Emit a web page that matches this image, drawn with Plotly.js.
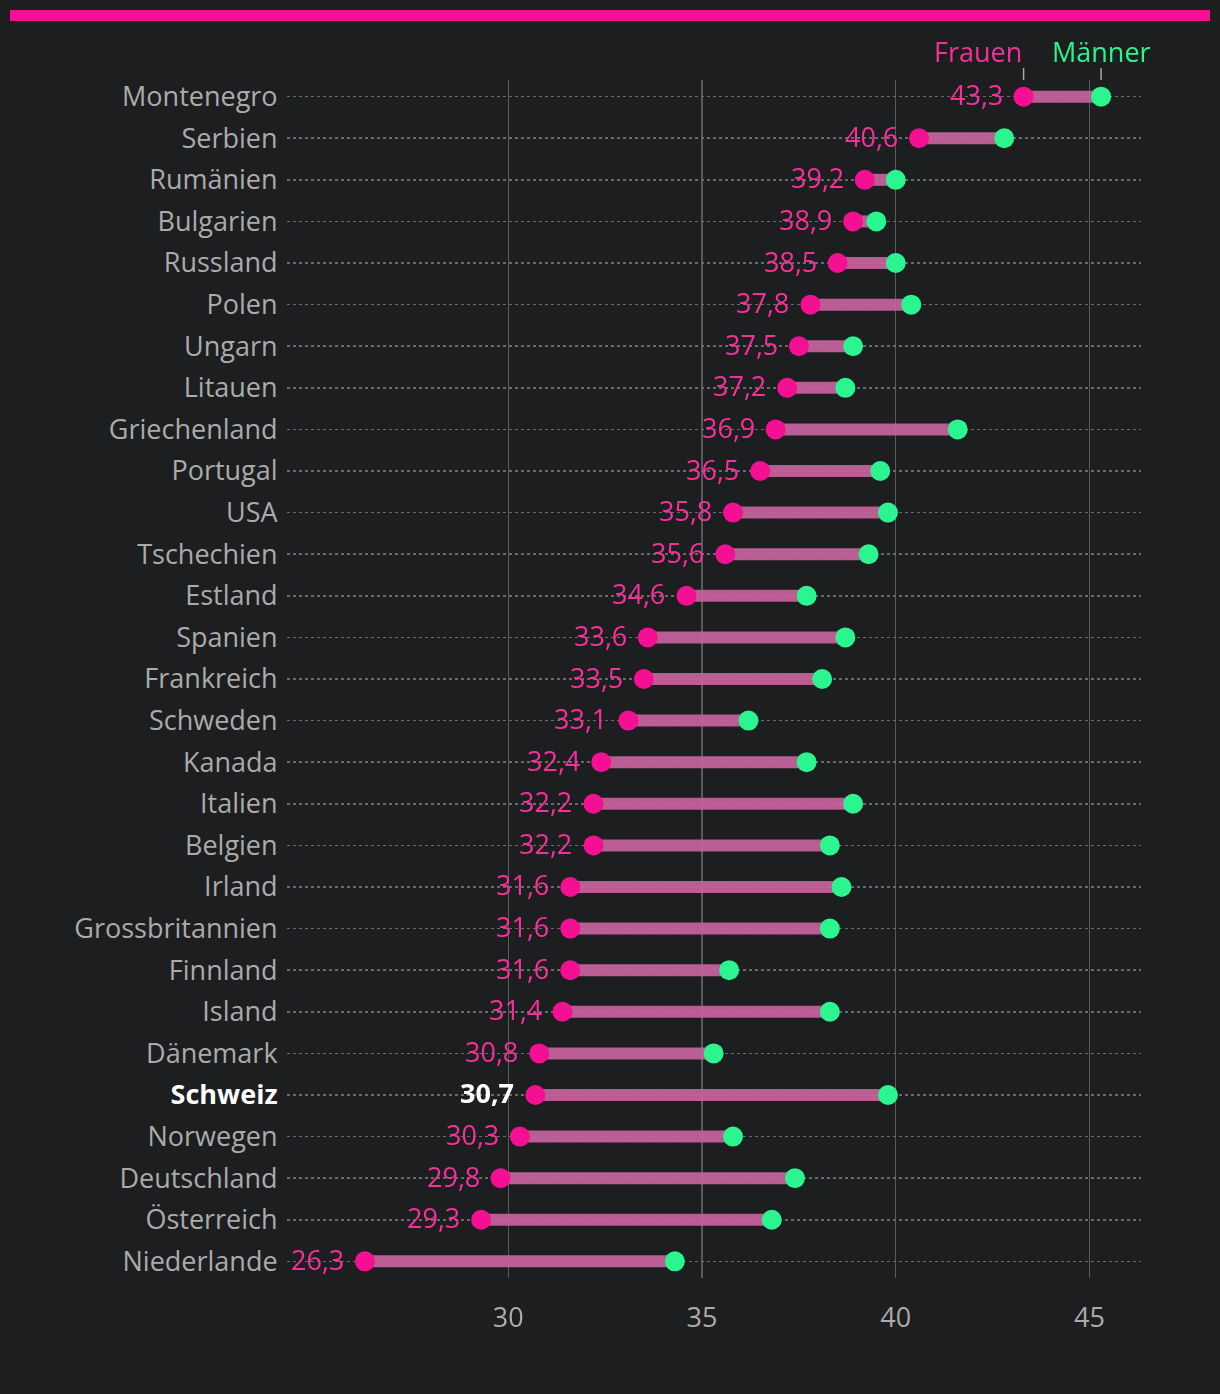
<!DOCTYPE html>
<html>
<head>
<meta charset="utf-8">
<script src="https://cdn.plot.ly/plotly-3.0.1.min.js"></script>
<style>
html,body{margin:0;padding:0;background:#1d1e20;}
#chart{width:1220px;height:1394px;}
</style>
</head>
<body>
<div id="chart"></div>
<script>
const countries = ["Montenegro","Serbien","Rumänien","Bulgarien","Russland","Polen","Ungarn","Litauen","Griechenland","Portugal","USA","Tschechien","Estland","Spanien","Frankreich","Schweden","Kanada","Italien","Belgien","Irland","Grossbritannien","Finnland","Island","Dänemark","Schweiz","Norwegen","Deutschland","Österreich","Niederlande"];
const frauen = [43.3,40.6,39.2,38.9,38.5,37.8,37.5,37.2,36.9,36.5,35.8,35.6,34.6,33.6,33.5,33.1,32.4,32.2,32.2,31.6,31.6,31.6,31.4,30.8,30.7,30.3,29.8,29.3,26.3];
const maenner = [45.3,42.8,40.0,39.5,40.0,40.4,38.9,38.7,41.6,39.6,39.8,39.3,37.7,38.7,38.1,36.2,37.7,38.9,38.3,38.6,38.3,35.7,38.3,35.3,39.8,35.8,37.4,36.8,34.3];
const xTicks = [30,35,40,45];
const highlight = "Schweiz";

const PINK = "#f50f92", LABELPINK = "#f5309a", GREEN = "#2af58f", BG = "#1d1e20";
const FONT = "Open Sans, Lato, sans-serif";
const idx = countries.map((c,i)=>i);

const lx = [], ly = [];
countries.forEach((c,i)=>{ lx.push(frauen[i], maenner[i], null); ly.push(i, i, null); });

const fmt = v => v.toFixed(1).replace(".", ",");

const traces = [
  {type:"scatter", mode:"lines", x:lx, y:ly, line:{color:"#c8649e", width:12}, opacity:0.92, hoverinfo:"skip", showlegend:false},
  {type:"scatter", mode:"markers", x:maenner, y:idx, marker:{color:GREEN, size:20}, showlegend:false, cliponaxis:false},
  {type:"scatter", mode:"markers", x:frauen, y:idx, marker:{color:PINK, size:20}, showlegend:false, cliponaxis:false}
];

const valueAnn = countries.map((c,i)=>({
  x:frauen[i], y:i, xref:"x", yref:"y", xanchor:"right", yanchor:"middle", xshift:-19, yshift:2,
  text: c===highlight ? "<b>"+fmt(frauen[i])+"</b>" : fmt(frauen[i]),
  showarrow:false,
  font:{family:FONT, size:27, color: c===highlight ? "#ffffff" : LABELPINK}
}));

const layout = {
  width:1220, height:1394,
  paper_bgcolor:BG, plot_bgcolor:BG,
  margin:{l:287, r:79, t:80, b:116},
  font:{family:FONT, color:"#ababab", size:26},
  xaxis:{range:[24.29,46.33], tickvals:xTicks, ticktext:xTicks.map(String),
    showgrid:true, gridcolor:"#5a5a5c", gridwidth:1.5, zeroline:false, showline:false,
    ticks:"outside", ticklen:16, tickcolor:BG, tickfont:{size:27, color:"#ababab"}, fixedrange:true},
  yaxis:{range:[28.4,-0.4], tickvals:idx,
    ticktext: countries.map(c=> c===highlight ? "<b><span style='color:#ffffff'>"+c+"</span></b>" : c),
    showgrid:true, gridcolor:"#6a6a6c", gridwidth:1.5, griddash:"dot", zeroline:false, showline:false,
    ticks:"outside", ticklen:3, tickcolor:BG, tickfont:{size:27, color:"#ababab"}, fixedrange:true},
  shapes:[
    {type:"rect", xref:"paper", yref:"paper", x0:-0.3244, x1:1.0808, y0:1.0492, y1:1.0584, fillcolor:PINK, line:{width:0}},
    {type:"line", xref:"x", yref:"paper", x0:frauen[0], x1:frauen[0], y0:1, y1:1+12/1198, line:{color:"#a8a8a8", width:1.5}},
    {type:"line", xref:"x", yref:"paper", x0:maenner[0], x1:maenner[0], y0:1, y1:1+12/1198, line:{color:"#a8a8a8", width:1.5}}
  ],
  annotations:valueAnn.concat([
    {x:frauen[0], y:1+29/1198, xref:"x", yref:"paper", text:"Frauen", xanchor:"right", yanchor:"middle", showarrow:false, font:{family:FONT, size:27, color:LABELPINK}},
    {x:maenner[0], y:1+29/1198, xref:"x", yref:"paper", text:"Männer", xanchor:"center", yanchor:"middle", showarrow:false, font:{family:FONT, size:27, color:GREEN}}
  ])
};

Plotly.newPlot("chart", traces, layout, {displayModeBar:false, staticPlot:true});
</script>
</body>
</html>
